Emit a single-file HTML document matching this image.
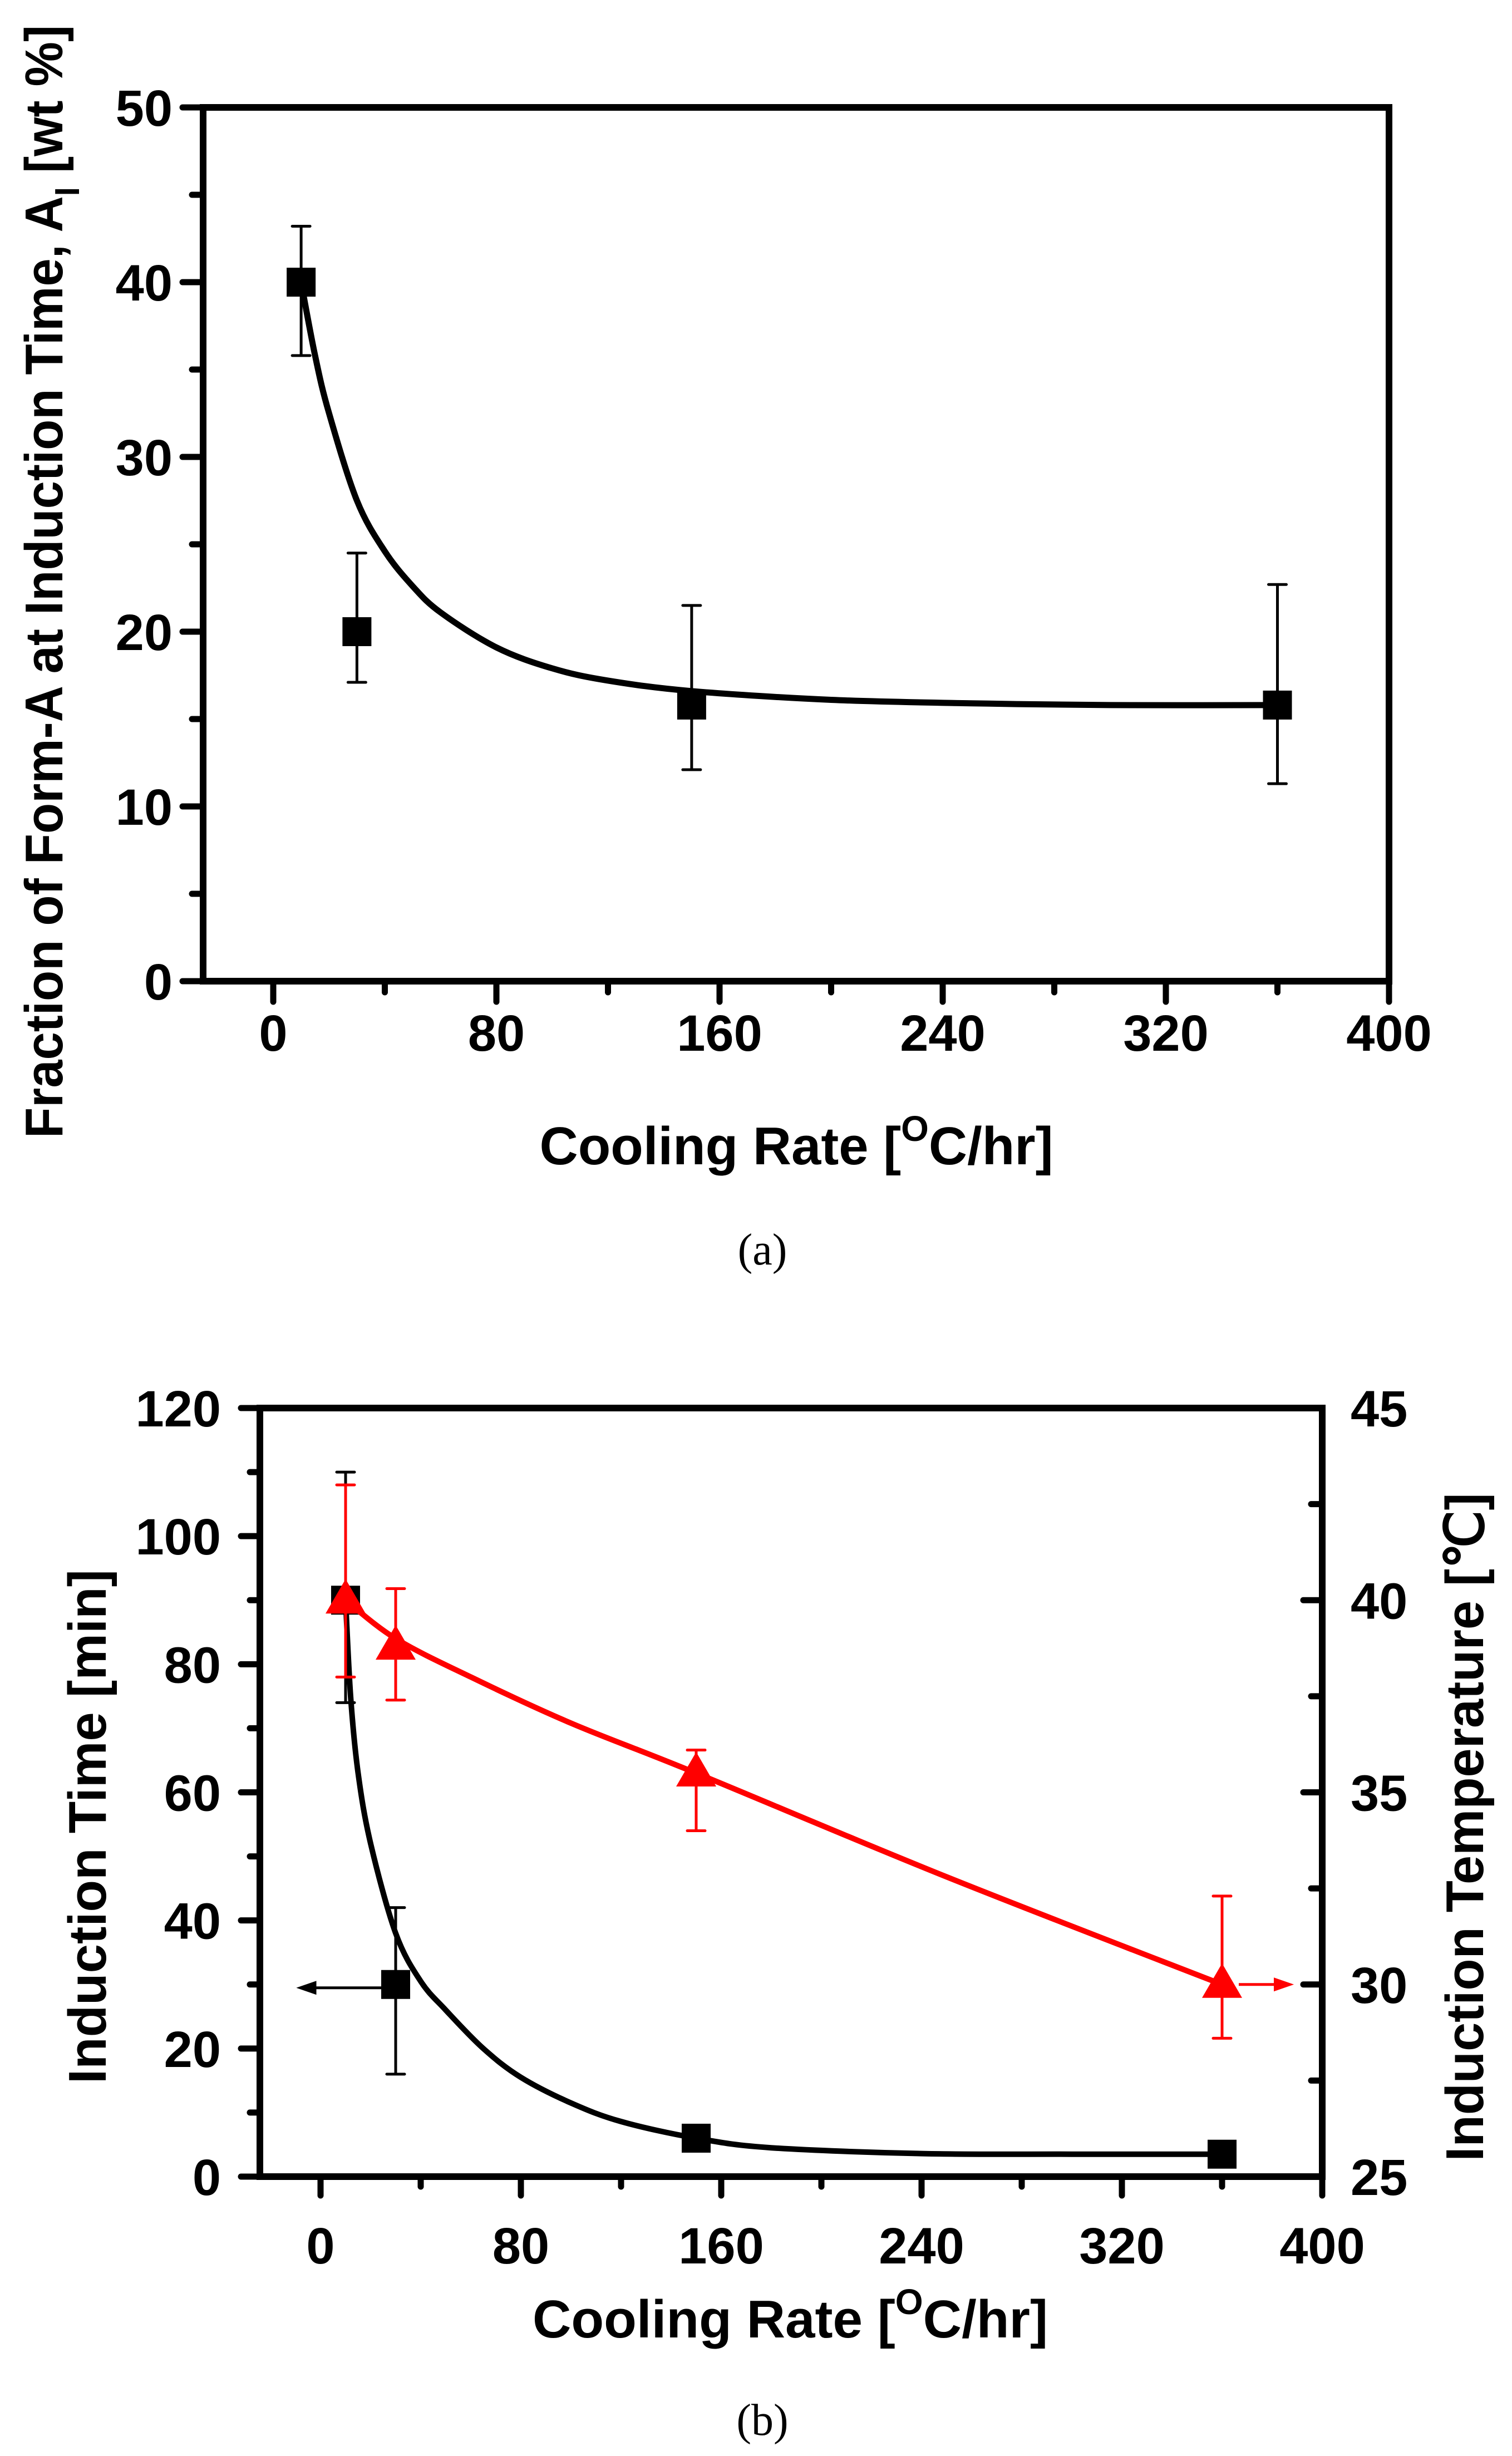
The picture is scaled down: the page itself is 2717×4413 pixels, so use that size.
<!DOCTYPE html>
<html><head><meta charset="utf-8">
<style>
html,body{margin:0;padding:0;background:#fff;}
svg{display:block;}
.tk{font-family:"Liberation Sans Narrow","Liberation Sans",sans-serif;font-weight:bold;font-size:92px;fill:#000;}
.ttl{font-family:"Liberation Sans Narrow","Liberation Sans",sans-serif;font-weight:bold;font-size:96px;fill:#000;}
.cap{font-family:"Liberation Serif",serif;font-size:80px;fill:#000;}
</style></head>
<body>
<svg id="fig" width="2717" height="4413" viewBox="0 0 2717 4413" xmlns="http://www.w3.org/2000/svg"></svg>
<script>
// ---------- Panel (a) data ----------
const aXTicks = [0, 80, 160, 240, 320, 400];
const aYTicks = [0, 10, 20, 30, 40, 50];
const aRate = [10, 30, 150, 360];
const aFrac = [40, 20, 15.8, 15.8];
const aErrLo = [35.8, 17.1, 12.1, 11.3];
const aErrHi = [43.2, 24.5, 21.5, 22.7];
const aFitX = [10, 15, 20, 30, 40, 50, 60, 80, 100, 120, 150, 200, 250, 300, 360];
const aFitY = [40, 35.8, 32.5, 27.5, 24.6, 22.6, 21.1, 19.1, 17.9, 17.2, 16.6, 16.1, 15.9, 15.8, 15.8];

// ---------- Panel (b) data ----------
const bXTicks = [0, 80, 160, 240, 320, 400];
const bYTicks = [0, 20, 40, 60, 80, 100, 120];
const bY2Ticks = [25, 30, 35, 40, 45];
const bRate = [10, 30, 150, 360];
const bTime = [90, 30, 6, 3.5];
const bTimeLo = [74, 16, null, null];
const bTimeHi = [110, 42, null, null];
const bTemp = [40, 38.8, 35.5, 30];
const bTempLo = [38, 37.4, 34, 28.6];
const bTempHi = [43, 40.3, 36.1, 32.3];
const bTimeFitX = [10, 12, 15, 20, 30, 40, 50, 65, 80, 100, 120, 150, 180, 240, 300, 360];
const bTimeFitY = [90, 75, 63, 52, 38, 30.5, 26, 20, 15.5, 11.5, 8.6, 6, 4.5, 3.6, 3.5, 3.5];
const bTempFitX = [10, 30, 60, 100, 150, 250, 360];
const bTempFitY = [40, 39, 38, 36.8, 35.5, 32.8, 30];

const NS = "http://www.w3.org/2000/svg";
const svg = document.getElementById('fig');
function el(tag, attrs, parent, text) {
  const e = document.createElementNS(NS, tag);
  for (const k in attrs) e.setAttribute(k, attrs[k]);
  if (text !== undefined) e.textContent = text;
  (parent || svg).appendChild(e);
  return e;
}
function lin(d0, d1, r0, r1) { return v => r0 + (v - d0) * (r1 - r0) / (d1 - d0); }
function smoothPath(xs, ys, fx, fy) {
  const p = xs.map((x, i) => [fx(x), fy(ys[i])]);
  let d = 'M' + p[0][0].toFixed(1) + ',' + p[0][1].toFixed(1);
  for (let i = 0; i < p.length - 1; i++) {
    const p0 = p[i - 1] || p[i], p1 = p[i], p2 = p[i + 1], p3 = p[i + 2] || p2;
    const c1x = p1[0] + (p2[0] - p0[0]) / 6, c1y = p1[1] + (p2[1] - p0[1]) / 6;
    const c2x = p2[0] - (p3[0] - p1[0]) / 6, c2y = p2[1] - (p3[1] - p1[1]) / 6;
    d += ` C${c1x.toFixed(1)},${c1y.toFixed(1)} ${c2x.toFixed(1)},${c2y.toFixed(1)} ${p2[0].toFixed(1)},${p2[1].toFixed(1)}`;
  }
  return d;
}

// ================= PANEL A =================
const gA = el('g', {});


const ax = lin(0, 400, 491, 2496);
const ay = lin(0, 50, 1763, 193);
const aLeft = 365, aRight = 2496, aTop = 193, aBot = 1763;

const fa = el('rect', {x: aLeft, y: aTop, width: aRight - aLeft, height: aBot - aTop, fill: 'none', stroke: '#000', 'stroke-width': 12}, gA);



aYTicks.forEach((v, i) => {
  const y = ay(v);
  const t = el('line', {x1: aLeft, x2: aLeft - 37, y1: y, y2: y, stroke: '#000', 'stroke-width': 11, 'stroke-linecap': 'round'}, gA);
  
  
  const lb = el('text', {x: 310, y: y + 33, 'text-anchor': 'end', class: 'tk'}, gA, String(v));
  
  
  if (i < aYTicks.length - 1) {
    const ym = ay((v + aYTicks[i + 1]) / 2);
    const m = el('line', {x1: aLeft, x2: aLeft - 20, y1: ym, y2: ym, stroke: '#000', 'stroke-width': 11, 'stroke-linecap': 'round'}, gA);
    
    
  }
});
aXTicks.forEach((v, i) => {
  const x = ax(v);
  const t = el('line', {x1: x, x2: x, y1: aBot, y2: aBot + 37, stroke: '#000', 'stroke-width': 11, 'stroke-linecap': 'round'}, gA);
  
  
  const lb = el('text', {x: x, y: 1888, 'text-anchor': 'middle', class: 'tk'}, gA, String(v));
  
  
  if (i < aXTicks.length - 1) {
    const xm = ax((v + aXTicks[i + 1]) / 2);
    const m = el('line', {x1: xm, x2: xm, y1: aBot, y2: aBot + 20, stroke: '#000', 'stroke-width': 11, 'stroke-linecap': 'round'}, gA);
    
    
  }
});
const fitA = el('path', {d: smoothPath(aFitX, aFitY, ax, ay), fill: 'none', stroke: '#000', 'stroke-width': 11, 'stroke-linejoin': 'round'}, gA);


aRate.forEach((r, i) => {
  const x = ax(r);
  const eb = el('path', {d: `M${x},${ay(aErrLo[i])} L${x},${ay(aErrHi[i])} M${x - 16},${ay(aErrLo[i])} L${x + 16},${ay(aErrLo[i])} M${x - 16},${ay(aErrHi[i])} L${x + 16},${ay(aErrHi[i])}`, stroke: '#000', 'stroke-width': 5, 'stroke-linecap': 'round', fill: 'none'}, gA);
  
  
  const m = el('rect', {x: x - 26, y: ay(aFrac[i]) - 26, width: 52, height: 52, fill: '#000'}, gA);
  
  
});
const ytA = el('text', {class: 'ttl', 'font-size': 92, transform: 'translate(112,1045) rotate(-90)', 'text-anchor': 'middle', textLength: 2000, lengthAdjust: 'spacingAndGlyphs', style: 'font-family:"Liberation Sans",sans-serif'}, gA);


ytA.appendChild(document.createTextNode('Fraction of Form-A at Induction Time, A'));
el('tspan', {'font-size': 62, dy: 30}, ytA, 'I');
el('tspan', {dy: -30}, ytA, ' [wt %]');

const xtA = el('text', {class: 'ttl', x: 1431, y: 2092, 'text-anchor': 'middle', textLength: 923, lengthAdjust: 'spacingAndGlyphs'}, gA);


xtA.appendChild(document.createTextNode('Cooling Rate ['));
el('tspan', {'font-size': 64, dy: -42}, xtA, 'O');
el('tspan', {dy: 42}, xtA, 'C/hr]');

const capA = el('text', {class: 'cap', x: 1370, y: 2272, 'text-anchor': 'middle'}, svg, '(a)');



// ================= PANEL B =================
const gB = el('g', {});


const bx = lin(0, 400, 576, 2376);
const by = lin(0, 120, 3911, 2530);
const by2 = lin(25, 45, 3911, 2530);
const bLeft = 467, bRight = 2376, bTop = 2530, bBot = 3911;

const fb = el('rect', {x: bLeft, y: bTop, width: bRight - bLeft, height: bBot - bTop, fill: 'none', stroke: '#000', 'stroke-width': 12}, gB);



bYTicks.forEach((v, i) => {
  const y = by(v);
  const t = el('line', {x1: bLeft, x2: bLeft - 34, y1: y, y2: y, stroke: '#000', 'stroke-width': 11, 'stroke-linecap': 'round'}, gB);
  
  
  const lb = el('text', {x: 397, y: y + 33, 'text-anchor': 'end', class: 'tk'}, gB, String(v));
  
  
  if (i < bYTicks.length - 1) {
    const ym = by((v + bYTicks[i + 1]) / 2);
    const m = el('line', {x1: bLeft, x2: bLeft - 18, y1: ym, y2: ym, stroke: '#000', 'stroke-width': 11, 'stroke-linecap': 'round'}, gB);
    
    
  }
});
bY2Ticks.forEach((v, i) => {
  const y = by2(v);
  const t = el('line', {x1: bRight, x2: bRight - 34, y1: y, y2: y, stroke: '#000', 'stroke-width': 11, 'stroke-linecap': 'round'}, gB);
  
  
  const lb = el('text', {x: 2427, y: y + 33, 'text-anchor': 'start', class: 'tk'}, gB, String(v));
  
  
  if (i < bY2Ticks.length - 1) {
    const ym = by2((v + bY2Ticks[i + 1]) / 2);
    const m = el('line', {x1: bRight, x2: bRight - 20, y1: ym, y2: ym, stroke: '#000', 'stroke-width': 11, 'stroke-linecap': 'round'}, gB);
    
    
  }
});
bXTicks.forEach((v, i) => {
  const x = bx(v);
  const t = el('line', {x1: x, x2: x, y1: bBot, y2: bBot + 34, stroke: '#000', 'stroke-width': 11, 'stroke-linecap': 'round'}, gB);
  
  
  const lb = el('text', {x: x, y: 4067, 'text-anchor': 'middle', class: 'tk'}, gB, String(v));
  
  
  if (i < bXTicks.length - 1) {
    const xm = bx((v + bXTicks[i + 1]) / 2);
    const m = el('line', {x1: xm, x2: xm, y1: bBot, y2: bBot + 18, stroke: '#000', 'stroke-width': 11, 'stroke-linecap': 'round'}, gB);
    
    
  }
});

const fitT = el('path', {d: smoothPath(bTimeFitX, bTimeFitY, bx, by), fill: 'none', stroke: '#000', 'stroke-width': 10, 'stroke-linejoin': 'round'}, gB);


bRate.forEach((r, i) => {
  const x = bx(r);
  if (bTimeLo[i] !== null) {
    const eb = el('path', {d: `M${x},${by(bTimeLo[i])} L${x},${by(bTimeHi[i])} M${x - 16},${by(bTimeLo[i])} L${x + 16},${by(bTimeLo[i])} M${x - 16},${by(bTimeHi[i])} L${x + 16},${by(bTimeHi[i])}`, stroke: '#000', 'stroke-width': 5, 'stroke-linecap': 'round', fill: 'none'}, gB);
    
    
  }
  const m = el('rect', {x: x - 26, y: by(bTime[i]) - 26, width: 52, height: 52, fill: '#000'}, gB);
  
  
});
const arrY = by(bTime[1]) + 6;
const tipL = bx(-8);
const arrL = el('path', {d: `M${bx(bRate[1]) - 26},${arrY} L${tipL + 10},${arrY} M${tipL},${arrY} l26,-9 l0,18 z`, stroke: '#000', 'stroke-width': 5, fill: '#000'}, gB);



const fitR = el('path', {d: smoothPath(bTempFitX, bTempFitY, bx, by2), fill: 'none', stroke: '#ff0000', 'stroke-width': 10, 'stroke-linejoin': 'round'}, gB);


bRate.forEach((r, i) => {
  const x = bx(r);
  const eb = el('path', {d: `M${x},${by2(bTempLo[i])} L${x},${by2(bTempHi[i])} M${x - 16},${by2(bTempLo[i])} L${x + 16},${by2(bTempLo[i])} M${x - 16},${by2(bTempHi[i])} L${x + 16},${by2(bTempHi[i])}`, stroke: '#ff0000', 'stroke-width': 5, 'stroke-linecap': 'round', fill: 'none'}, gB);
  
  
  const y = by2(bTemp[i]);
  const m = el('path', {d: `M${x},${y - 38} L${x + 36},${y + 24} L${x - 36},${y + 24} Z`, fill: '#ff0000'}, gB);
  
  
});
const tipR = bx(387);
const arrR = el('path', {d: `M${bx(bRate[3]) + 30},${by2(bTemp[3])} L${tipR - 10},${by2(bTemp[3])} M${tipR},${by2(bTemp[3])} l-26,-9 l0,18 z`, stroke: '#ff0000', 'stroke-width': 5, fill: '#ff0000'}, gB);



const ytB = el('text', {class: 'ttl', 'font-size': 92, transform: 'translate(190,3282) rotate(-90)', 'text-anchor': 'middle', textLength: 924, lengthAdjust: 'spacingAndGlyphs'}, gB, 'Induction Time [min]');


const y2tB = el('text', {class: 'ttl', 'font-size': 92, transform: 'translate(2665,3283) rotate(-90)', 'text-anchor': 'middle', textLength: 1201, lengthAdjust: 'spacingAndGlyphs'}, gB, 'Induction Temperature [℃]');



const xtB = el('text', {class: 'ttl', x: 1420, y: 4200, 'text-anchor': 'middle', textLength: 926, lengthAdjust: 'spacingAndGlyphs'}, gB);


xtB.appendChild(document.createTextNode('Cooling Rate ['));
el('tspan', {'font-size': 64, dy: -42}, xtB, 'O');
el('tspan', {dy: 42}, xtB, 'C/hr]');

const capB = el('text', {class: 'cap', x: 1370, y: 4375, 'text-anchor': 'middle'}, svg, '(b)');


</script>
</body></html>
